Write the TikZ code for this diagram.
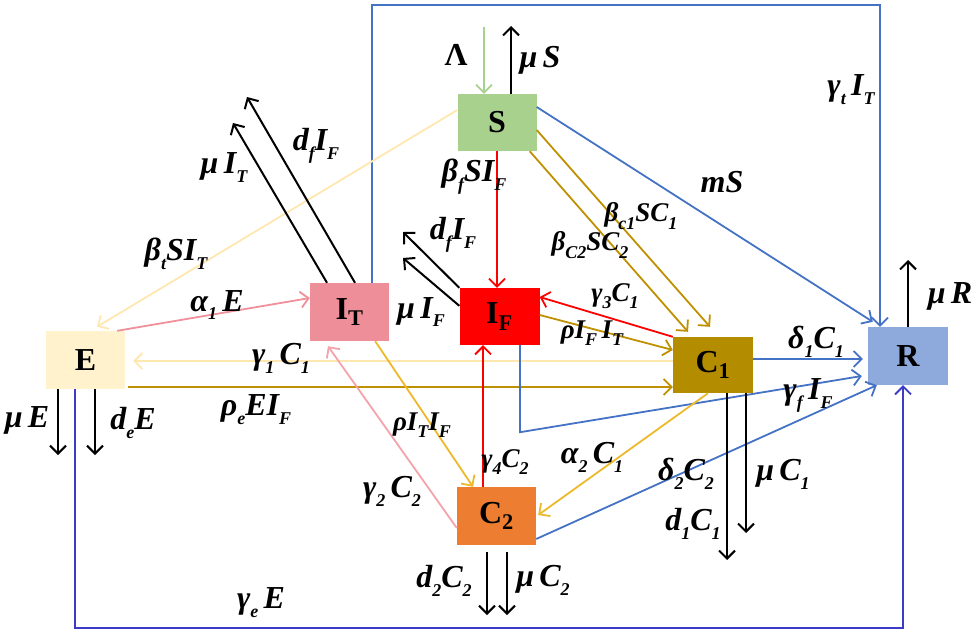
\documentclass[tikz,border=0pt]{standalone}
\usepackage{fontspec}
\setmainfont{Liberation Serif}
\usepackage{tikz}
\usetikzlibrary{arrows.meta}
\definecolor{sgreen}{HTML}{A9D18E}
\definecolor{itpink}{HTML}{EE8E99}
\definecolor{ered}{HTML}{FF0000}
\definecolor{eyel}{HTML}{FFF2CC}
\definecolor{cgold}{HTML}{B38C00}
\definecolor{corange}{HTML}{ED7D31}
\definecolor{rblue}{HTML}{8EA9DB}
\definecolor{lnblue}{HTML}{4472C4}
\definecolor{dblue}{HTML}{3B3BC4}
\definecolor{lnolive}{HTML}{BF9000}
\definecolor{lngold}{HTML}{EDB92B}
\definecolor{pale}{HTML}{FFE8B0}
\definecolor{lpink}{HTML}{F0909B}
\definecolor{lpinkb}{HTML}{F2A3AB}
\newcommand{\sbs}[1]{\raisebox{-0.28em}{\fontsize{18}{18}\selectfont#1}}

\begin{document}
\begin{tikzpicture}[x=1pt,y=-1pt,
box/.style={rectangle,inner sep=0pt,minimum width=79pt,minimum height=57pt,font=\fontsize{32}{34}\selectfont\bfseries},
lbl/.style={inner sep=0pt,font=\fontsize{32}{34}\selectfont\bfseries\itshape},
lbls/.style={lbl,font=\fontsize{27}{29}\selectfont\bfseries\itshape},
arr/.style={-{Straight Barb[length=8pt,width=16pt]},line width=1.8pt},
blk/.style={arr,line width=2pt,black}]
\useasboundingbox (0,0) rectangle (978,632);
\node[box,fill=sgreen] (S) at (497,122.5) {S};
\node[box,fill=itpink,minimum height=58pt] (IT) at (349.5,312) {I\textsubscript{T}};
\node[box,fill=ered,minimum width=80pt] (IF) at (499.5,316.5) {I\textsubscript{F}};
\node[box,fill=eyel,minimum height=58pt] (E) at (85.5,360) {E};
\node[box,fill=cgold,minimum width=80pt,minimum height=56pt] (C1) at (713,365) {C\textsubscript{1}};
\node[box,fill=corange,minimum height=58pt] (C2) at (496.5,516) {C\textsubscript{2}};
\node[box,fill=rblue,minimum width=80pt,minimum height=58pt] (R) at (908,356) {R};
\coordinate (lam) at (484,27);\coordinate (muS) at (511,26);\coordinate (top) at (880,5);
\coordinate (muIT) at (233,123);\coordinate (dIT) at (247,97);
\coordinate (dIF) at (403,232);\coordinate (muIF) at (403,258);
\coordinate (muE) at (58,455);\coordinate (dE) at (95,455);\coordinate (bot) at (75,628);
\coordinate (dC1) at (727,560);\coordinate (muC1) at (746,533);
\coordinate (dC2) at (487,615);\coordinate (muC2) at (507,615);\coordinate (muR) at (908,260);
\draw[arr,sgreen] (lam) -- (lam |- S.north);\draw[blk] (muS |- S.north) -- (muS);
\draw[arr,lnblue] ([xshift=-17pt]IT.north east) |- (top) -- ([xshift=-28pt]R.north);
\draw[arr,lnblue] ([yshift=15.5pt]S.east) -- ([xshift=5pt,yshift=5pt]R.north west);
\draw[arr,lnolive] ([yshift=-7.5pt]S.east) -- ([xshift=-3pt,yshift=10pt]C1.north);
\draw[arr,lnolive] ([xshift=-7pt]S.south east) -- ([xshift=-25pt,yshift=5pt]C1.north);
\draw[arr,ered] (S.south) -- (S.south |- IF.north);
\draw[arr,pale] ([yshift=12.5pt]S.west) -- ([xshift=11.5pt,yshift=4pt]E.north);
\draw[blk] ([xshift=-22.5pt]IT.north) -- (muIT);\draw[blk] ([xshift=5.5pt]IT.north) -- (dIT);
\draw[blk] (IF.north west) -- (dIF);\draw[blk] ([yshift=-18pt]IF.north west) -- (muIF);
\draw[arr,lpink] ([xshift=-8pt]E.north east) -- ([yshift=14pt]IT.west);
\draw[arr,pale] ([yshift=4pt]C1.west) -- ([xshift=8pt,yshift=-1pt]E.east);
\draw[arr,lnolive] ([xshift=3pt,yshift=-27pt]E.east) -- ([yshift=-22pt]C1.west);
\draw[blk] ([xshift=-27.5pt]E.south) -- (muE);\draw[blk] ([xshift=9.5pt]E.south) -- (dE);
\draw[arr,dblue] ([xshift=-10.5pt]E.south) -- (bot) -| ([xshift=-5pt]R.south);
\draw[arr,lngold] ([xshift=-14pt]IT.south east) -- ([xshift=-23.5pt]C2.north);
\draw[arr,lpinkb] ([yshift=-12pt]C2.west) -- ([xshift=-21.5pt,yshift=-5pt]IT.south);
\draw[arr,ered] ([xshift=-13.5pt]C2.north) -- ([xshift=-16.5pt]IF.south);
\draw[arr,lnblue] ([xshift=20.5pt]IF.south) -- ++(0,87) -- ([xshift=-6pt,yshift=-20pt]R.west);
\draw[arr,ered] (C1.north west) -- ([yshift=19.5pt]IF.east);
\draw[arr,lnolive] ([yshift=1.5pt]IF.east) -- ([yshift=15pt]C1.west);
\draw[arr,lnblue] ([yshift=6pt]C1.east) -- ([xshift=-5pt,yshift=-3pt]R.west);
\draw[arr,lngold] ([xshift=-5pt]C1.south) -- ([xshift=2pt,yshift=1pt]C2.east);
\draw[arr,lnblue] ([yshift=-23pt]C2.east) -- ([xshift=9pt]R.south west);
\draw[blk] ([xshift=14pt]C1.south) -- (dC1);\draw[blk] (muC1 |- C1.south) -- (muC1);
\draw[blk] ([xshift=-9.5pt,yshift=-7pt]C2.south) -- (dC2);
\draw[blk] ([xshift=10.5pt,yshift=-7pt]C2.south) -- (muC2);
\draw[blk] (R.north) -- (muR);
\node[lbl] (tLam) at (456,55) {\upshape Λ};
\node[lbl] (tmuS) at (540,60) {μ\,S};
\node[lbl] (tgt) at (851,90) {γ\sbs{t}\,I\sbs{T}};
\node[lbl] (tmS) at (722,182) {mS};
\node[lbls] (tbc1) at (641,216) {β\sbs{c1}SC\sbs{1}};
\node[lbls] (tbc2) at (590,245) {β\sbs{C2}SC\sbs{2}};
\node[lbls] (tg3) at (615,296) {γ\sbs{3}C\sbs{1}};
\node[lbl] (tbf) at (474,177) {β\sbs{f}SI\sbs{F}};
\node[lbl] (tdfF) at (453,235) {d\sbs{f}I\sbs{F}};
\node[lbl] (tmuF) at (421,312) {μ\,I\sbs{F}};
\node[lbl] (tdfT) at (316,146) {d\sbs{f}I\sbs{F}};
\node[lbl] (tmuT) at (224,168) {μ\,I\sbs{T}};
\node[lbl] (tbt) at (176,254) {β\sbs{t}SI\sbs{T}};
\node[lbl] (ta1) at (217,305) {α\sbs{1}\,E};
\node[lbl] (tg1) at (281,358) {γ\sbs{1}\,C\sbs{1}};
\node[lbl] (tre) at (256,410) {ρ\sbs{e}EI\sbs{F}};
\node[lbl] (tmuE) at (27,420) {μ\,E};
\node[lbl] (tdE) at (133,423) {d\sbs{e}E};
\node[lbl] (tge) at (261,603) {γ\sbs{e}\,E};
\node[lbls] (trT) at (422,425) {ρI\sbs{T}I\sbs{F}};
\node[lbl] (tg2) at (392,491) {γ\sbs{2}\,C\sbs{2}};
\node[lbls] (tg4) at (505,462) {γ\sbs{4}C\sbs{2}};
\node[lbl] (ta2) at (592,457) {α\sbs{2}\,C\sbs{1}};
\node[lbls] (trF) at (592,333) {ρI\sbs{F}\,I\sbs{T}};
\node[lbl] (td1) at (816,342) {δ\sbs{1}C\sbs{1}};
\node[lbl] (tgf) at (808,395) {γ\sbs{f}\,I\sbs{F}};
\node[lbl] (td2) at (686,474) {δ\sbs{2}C\sbs{2}};
\node[lbl] (tmuC1) at (783,474) {μ\,C\sbs{1}};
\node[lbl] (td1C) at (693,524) {d\sbs{1}C\sbs{1}};
\node[lbl] (td2C) at (444,581) {d\sbs{2}C\sbs{2}};
\node[lbl] (tmuC2) at (543,580) {μ\,C\sbs{2}};
\node[lbl] (tmuR) at (950,296) {μ\,R};
\end{tikzpicture}
\end{document}
